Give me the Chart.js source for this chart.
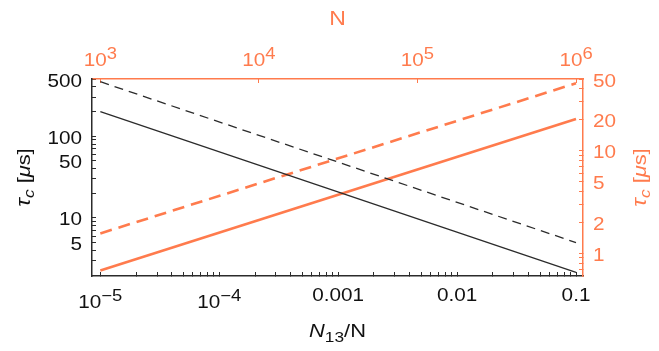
<!DOCTYPE html>
<html>
<head>
<meta charset="utf-8">
<script src="https://cdn.jsdelivr.net/npm/chart.js@4/dist/chart.umd.min.js"></script>
<style>
  body { margin: 0; background: #fff; }
  #wrap { width: 659px; height: 351px; position: relative; }
</style>
</head>
<body>
<div id="wrap"><canvas id="tauChart"></canvas></div>
<script>
// values
const ratio = [1e-5, 0.1];             // N13/N, bottom axis
const tauSolidBlack = [199, 2.16];     // left axis, µs
const tauDashedBlack = [463, 5.0];

const atomCount = [1e3, 1e6];          // N, top axis
const tauSolidOrange = [0.68, 20.4];   // right axis, µs
const tauDashedOrange = [1.56, 45.4];

// tick labels: [value, text, exponent]
const ratioLabels = [[1e-5, '10', '−5'], [1e-4, '10', '−4'], [1e-3, '0.001'], [1e-2, '0.01'], [1e-1, '0.1']];
const atomLabels = [[1e3, '10', '3'], [1e4, '10', '4'], [1e5, '10', '5'], [1e6, '10', '6']];
const leftLabels = [5, 10, 50, 100, 500];
const rightLabels = [1, 2, 5, 10, 20, 50];

const ORANGE = '#ff7b4d';
const DARK = '#2b2b2b';
const TEXT = '#111';
const FONT = '"Liberation Sans", Arial, sans-serif';
const STRETCH = 1.15;   // the reference text is drawn a bit wide

// axis ranges
const xMin = 8.51e-6, xMax = 0.1145;
// top axis: log N = 3 + 0.75 * (log x + 5)
const toN = v => Math.pow(10, 3 + 0.75 * (Math.log10(v) + 5));

// every 1..9 x 10^k inside [lo, hi]
function logSteps(lo, hi) {
    const out = [];
    for (let e = Math.floor(Math.log10(lo)); e <= Math.ceil(Math.log10(hi)); e++) {
        for (let m = 1; m < 10; m++) {
            const v = parseFloat((m * Math.pow(10, e)).toPrecision(6));
            if (v >= lo && v <= hi) out.push(v);
        }
    }
    return out;
}

function fixSize(size) {
    return scale => {
        if (scale.isHorizontal()) scale.height = size;
        else scale.width = size;
    };
}

function font(size, style) {
    return (style || '') + ' ' + size + 'px ' + FONT;
}

// draw text pieces in a row on baseline y, anchored at x; optionally turned 90° ccw
function drawRich(ctx, pieces, x, y, color, opts) {
    const o = Object.assign({ align: 'center', turned: false }, opts);
    ctx.save();
    ctx.fillStyle = color;
    ctx.textBaseline = 'alphabetic';
    ctx.textAlign = 'left';
    let total = 0;
    pieces.forEach(p => {
        ctx.font = font(p.size, p.style);
        p.w = ctx.measureText(p.t).width;
        total += p.w;
    });
    ctx.translate(x, y);
    if (o.turned) ctx.rotate(-Math.PI / 2);
    ctx.scale(STRETCH, 1);
    let cx = o.align === 'center' ? -total / 2 : (o.align === 'right' ? -total : 0);
    pieces.forEach(p => {
        ctx.font = font(p.size, p.style);
        ctx.fillText(p.t, cx, p.dy || 0);
        cx += p.w;
    });
    ctx.restore();
}

function labelPieces(text, exp) {
    const out = [{ t: text, size: 18 }];
    if (exp) out.push({ t: exp, size: 16, dy: -7 });
    return out;
}

function tauPieces() {
    return [
        { t: 'τ', size: 20, style: 'italic' },
        { t: 'c', size: 15, style: 'italic', dy: 4 },
        { t: ' [', size: 19 },
        { t: 'μ', size: 19, style: 'italic' },
        { t: 's]', size: 19 }
    ];
}

const richLabels = {
    id: 'richLabels',
    afterDraw(chart) {
        const ctx = chart.ctx;
        const s = chart.scales;
        const area = chart.chartArea;
        const midX = (area.left + area.right) / 2;
        const midY = (area.top + area.bottom) / 2;

        ratioLabels.forEach(([v, t, e]) => {
            const base = e ? s.x.top + 32 : s.x.top + 25;
            drawRich(ctx, labelPieces(t, e), s.x.getPixelForValue(v), base, TEXT);
        });
        atomLabels.forEach(([v, t, e]) => {
            drawRich(ctx, labelPieces(t, e), s.x2.getPixelForValue(v), s.x2.bottom - 13, ORANGE);
        });
        leftLabels.forEach(v => {
            drawRich(ctx, labelPieces(String(v)), s.y.right - 10, s.y.getPixelForValue(v) + 7.5, TEXT, { align: 'right' });
        });
        rightLabels.forEach(v => {
            drawRich(ctx, labelPieces(String(v)), s.y2.left + 10, s.y2.getPixelForValue(v) + 7.5, ORANGE, { align: 'left' });
        });

        drawRich(ctx, [
            { t: 'N', size: 19, style: 'italic' },
            { t: '13', size: 15, dy: 5 },
            { t: '/N', size: 19 }
        ], midX, 337, TEXT);
        drawRich(ctx, [{ t: 'N', size: 20 }], midX, 25, ORANGE);

        drawRich(ctx, tauPieces(), 30, midY, TEXT, { turned: true });
        drawRich(ctx, tauPieces(), 646, midY, ORANGE, { turned: true });
    }
};

const noLabel = { autoSkip: false, maxRotation: 0, callback: () => '' };

new Chart(document.getElementById('tauChart'), {
    type: 'line',
    data: {
        datasets: [
            {
                data: ratio.map((x, i) => ({ x: x, y: tauSolidBlack[i] })),
                xAxisID: 'x', yAxisID: 'y',
                borderColor: DARK, borderWidth: 1.3
            },
            {
                data: ratio.map((x, i) => ({ x: x, y: tauDashedBlack[i] })),
                xAxisID: 'x', yAxisID: 'y',
                borderColor: DARK, borderWidth: 1.3, borderDash: [9, 6]
            },
            {
                data: atomCount.map((n, i) => ({ x: n, y: tauSolidOrange[i] })),
                xAxisID: 'x2', yAxisID: 'y2',
                borderColor: ORANGE, borderWidth: 2.6
            },
            {
                data: atomCount.map((n, i) => ({ x: n, y: tauDashedOrange[i] })),
                xAxisID: 'x2', yAxisID: 'y2',
                borderColor: ORANGE, borderWidth: 2.6, borderDash: [12, 7]
            }
        ]
    },
    plugins: [richLabels],
    options: {
        responsive: true,
        maintainAspectRatio: false,
        animation: false,
        layout: { padding: 0 },
        elements: { point: { radius: 0 }, line: { tension: 0 } },
        plugins: { legend: { display: false }, tooltip: { enabled: false } },
        scales: {
            x: {
                type: 'logarithmic', position: 'bottom',
                min: xMin, max: xMax,
                border: { color: DARK, width: 1.5 },
                grid: { drawOnChartArea: false, tickLength: -4, tickColor: DARK },
                afterBuildTicks: s => { s.ticks = logSteps(1e-5, 0.1).map(v => ({ value: v })); },
                afterFit: fixSize(75),
                ticks: noLabel
            },
            x2: {
                type: 'logarithmic', position: 'top',
                min: toN(xMin), max: toN(xMax),
                border: { color: ORANGE, width: 1.5 },
                grid: { drawOnChartArea: false, tickLength: -4, tickColor: ORANGE },
                afterBuildTicks: s => { s.ticks = atomLabels.map(p => ({ value: p[0] })); },
                afterFit: fixSize(79),
                ticks: noLabel
            },
            y: {
                type: 'logarithmic', position: 'left',
                min: 1.95, max: 500,
                border: { color: DARK, width: 1.5 },
                grid: { drawOnChartArea: false, tickLength: -4, tickColor: DARK },
                afterBuildTicks: s => { s.ticks = logSteps(2, 500).map(v => ({ value: v })); },
                afterFit: fixSize(92),
                ticks: noLabel
            },
            y2: {
                type: 'logarithmic', position: 'right',
                min: 0.63, max: 50,
                border: { color: ORANGE, width: 1.5 },
                grid: { drawOnChartArea: false, tickLength: -4, tickColor: ORANGE },
                afterBuildTicks: s => { s.ticks = logSteps(0.7, 50).map(v => ({ value: v })); },
                afterFit: fixSize(76),
                ticks: noLabel
            }
        }
    }
});
</script>
</body>
</html>
